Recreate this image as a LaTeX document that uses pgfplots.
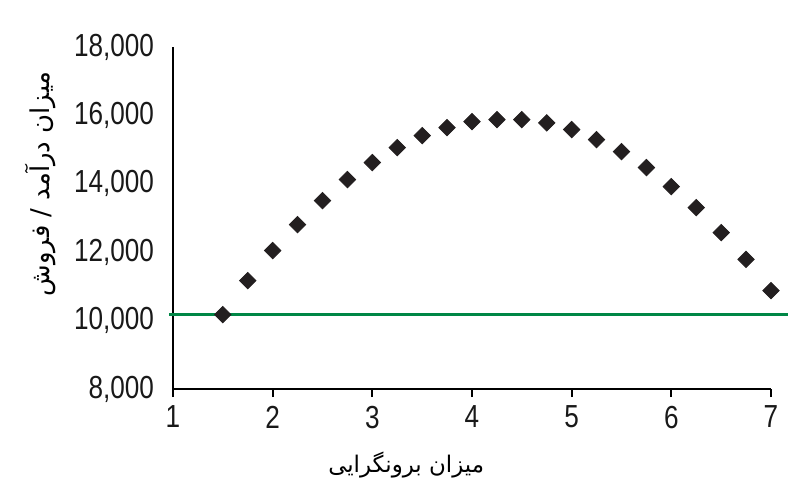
\documentclass[border=0pt]{standalone}
\usepackage{pgfplots}
\pgfplotsset{compat=1.18}
\usepackage{fontspec}
\setmainfont{Liberation Sans}[FakeStretch=0.82]
\newfontfamily\persian[Script=Arabic]{DejaVu Sans}
\TeXXeTstate=1
\definecolor{pts}{RGB}{35,31,32}
\definecolor{lvl}{RGB}{0,135,70}

\begin{document}
\begin{tikzpicture}
\begin{axis}[
    scale only axis,
    width=299bp, height=171bp,
    xmin=1, xmax=7, ymin=8000, ymax=18000,
    axis x line=bottom, axis y line=left,
    axis line style={line width=1.4bp, -},
    xtick={1,...,7},
    ytick={8000,10000,...,18000},
    major tick length=4bp,
    xtick style={line width=1bp, black},
    ytick style={draw=none},
    tick align=outside,
    /pgf/number format/assume math mode=true,
    /pgf/number format/1000 sep={,},
    scaled y ticks=false,
    ticklabel style={font=\fontsize{16}{18}\selectfont, text=black!90},
    xticklabel style={yshift=-1bp},
    yticklabel style={xshift=-2bp},
    xlabel={\persian\beginR میزان برونگرایی\endR},
    ylabel={\persian\beginR میزان درآمد / فروش\endR},
    xlabel style={font=\persian\fontsize{11.5}{14}\selectfont, at={(axis description cs:0.39,-0.222)}, anchor=center},
    ylabel style={font=\persian\fontsize{13}{15}\selectfont, at={(axis description cs:-0.222,0.6)}, anchor=center},
    clip=false,
]
\addplot[lvl, line width=1.2bp] coordinates {(0.96,10175) (7.17,10175)};
\addplot[only marks, mark=square*, mark size=2.9bp, mark options={rotate=45}, color=pts] coordinates {
(1.5,10175) (1.75,11170) (2.0,12047) (2.25,12807) (2.5,13509) (2.75,14123)
(3.0,14620) (3.25,15059) (3.5,15409) (3.75,15643) (4.0,15819) (4.25,15877)
(4.5,15877) (4.75,15780) (5.0,15585) (5.25,15292) (5.5,14942) (5.75,14474)
(6.0,13918) (6.25,13304) (6.5,12573) (6.75,11790) (7.0,10877)
};
\coordinate (ll) at (rel axis cs:0,0);
\coordinate (ur) at (rel axis cs:1,1);
\end{axis}
\path ([shift={(-86.5bp,-51.5bp)}]ll) rectangle ([shift={(14.5bp,23.5bp)}]ur);
\end{tikzpicture}
\end{document}
